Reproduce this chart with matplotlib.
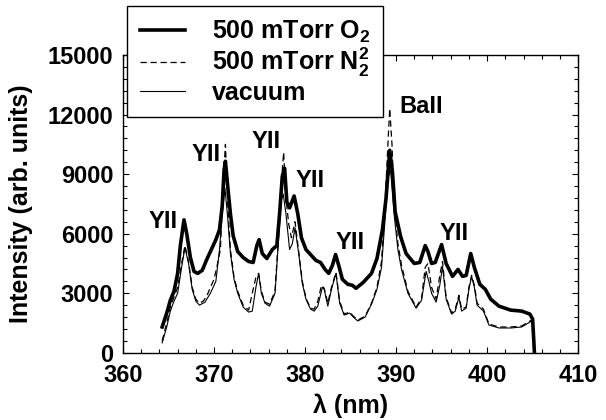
import matplotlib
matplotlib.use("Agg")
import matplotlib.pyplot as plt
from matplotlib.ticker import MultipleLocator

plt.rcParams['font.family'] = ['Liberation Sans', 'DejaVu Sans']
plt.rcParams['font.weight'] = 'bold'
plt.rcParams['mathtext.fontset'] = 'custom'
plt.rcParams['mathtext.rm'] = 'Liberation Sans:bold'
plt.rcParams['mathtext.it'] = 'Liberation Sans:bold'
plt.rcParams['mathtext.bf'] = 'Liberation Sans:bold'

# emission spectra, wavelength (nm) / intensity (arb. units)
wl_o2 = [364.3, 364.8, 365.2, 365.6, 366.0, 366.3, 366.7, 367.0, 367.4, 367.8,
         368.2, 368.7, 369.2, 369.7, 370.2, 370.6, 370.9, 371.1, 371.25, 371.5,
         371.8, 372.1, 372.6, 373.2, 373.8, 374.3, 374.7, 374.95, 375.3, 375.8,
         376.4, 376.9, 377.2, 377.5, 377.75, 378.0, 378.3, 378.8, 379.2, 379.6,
         380.1, 380.6, 381.2, 381.7, 382.2, 382.6, 383.0, 383.35, 383.7, 384.1,
         384.7, 385.2, 385.6, 386.4, 387.3, 387.9, 388.5, 388.9, 389.3, 389.6,
         389.9, 390.5, 391.1, 392.0, 392.6, 393.2, 393.5, 393.9, 394.3, 395.0,
         395.5, 396.2, 396.8, 397.3, 397.7, 398.2, 398.6, 399.2, 399.8, 400.4,
         401.3, 402.6, 403.8, 404.7, 405.0, 405.2]
int_o2 = [1300, 2000, 2650, 3100, 4000, 5400, 6700, 6000, 4800, 4100,
          4000, 4150, 4700, 5200, 5700, 6200, 7400, 9200, 9650, 8400,
          7000, 5900, 5100, 4800, 4600, 4550, 5400, 5700, 5000, 4750,
          5200, 5400, 7000, 8900, 9300, 7600, 7300, 7900, 7000, 5800,
          5200, 4950, 4650, 4550, 4200, 4000, 4400, 4950, 4400, 3700,
          3450, 3400, 3250, 3550, 4000, 4750, 6200, 7800, 10200, 9100,
          7100, 5850, 5000, 4500, 4550, 5400, 5100, 4500, 4550, 5450,
          4500, 3850, 4200, 3850, 3900, 5000, 4300, 3450, 3200, 2700,
          2350, 2150, 2100, 1950, 1700, 0]

wl_n2 = [364.3, 364.8, 365.2, 365.6, 366.0, 366.4, 366.8, 367.2, 367.6, 368.0,
         368.4, 368.8, 369.2, 369.6, 370.0, 370.3, 370.7, 371.0, 371.25, 371.5,
         371.8, 372.2, 372.6, 373.2, 373.8, 374.2, 374.6, 374.9, 375.2, 375.6,
         376.1, 376.7, 377.1, 377.4, 377.65, 377.9, 378.2, 378.5, 378.9, 379.3,
         379.7, 380.1, 380.6, 381.0, 381.4, 381.8, 382.1, 382.5, 382.9, 383.4,
         383.8, 384.3, 384.9, 385.3, 385.8, 386.6, 387.3, 387.9, 388.4, 388.8,
         389.1, 389.3, 389.55, 389.8, 390.2, 390.6, 391.3, 392.2, 392.8, 393.2,
         393.5, 393.9, 394.4, 394.8, 395.1, 395.5, 396.1, 396.5, 396.9, 397.2,
         397.7, 398.0, 398.3, 398.6, 398.9, 399.6, 400.2, 401.3, 402.6, 403.8,
         404.7, 404.9]
int_n2 = [600, 1500, 2300, 2800, 3300, 4400, 5400, 4600, 3300, 2700,
          2500, 2600, 2850, 3300, 3700, 4300, 5200, 8500, 10500, 7500,
          5200, 3800, 3100, 2400, 2150, 3000, 3800, 4000, 3100, 2550,
          2450, 3100, 6000, 8600, 10100, 7800, 6500, 5800, 6600, 5100,
          3600, 2750, 2250, 2200, 2600, 3400, 3250, 2500, 3300, 4050,
          2600, 1950, 2050, 1850, 1650, 1850, 2500, 3300, 4600, 7600,
          10500, 12300, 10500, 7500, 5500, 4400, 3100, 2300, 2750, 4300,
          4500, 3300, 2700, 3900, 4600, 2800, 2000, 2200, 2900, 2200,
          2300, 3300, 3900, 3400, 2500, 2200, 1450, 1300, 1300, 1350,
          1600, 1650]

wl_vac = [364.3, 364.8, 365.2, 365.6, 366.0, 366.4, 366.8, 367.2, 367.6, 368.0,
          368.4, 369.0, 369.6, 370.2, 370.6, 370.9, 371.2, 371.5, 371.8, 372.2,
          372.6, 373.2, 373.8, 374.2, 374.6, 374.9, 375.2, 375.6, 376.1, 376.7,
          377.1, 377.4, 377.6, 377.9, 378.3, 378.6, 378.9, 379.3, 379.7, 380.1,
          380.6, 381.0, 381.4, 381.9, 382.1, 382.5, 382.9, 383.4, 383.8, 384.3,
          384.9, 385.3, 385.8, 386.6, 387.3, 387.9, 388.4, 388.8, 389.1, 389.4,
          389.8, 390.2, 390.6, 391.3, 392.2, 392.8, 393.3, 393.6, 393.9, 394.4,
          394.8, 395.1, 395.5, 396.1, 396.5, 396.9, 397.2, 397.7, 398.0, 398.3,
          398.6, 398.9, 399.6, 400.2, 401.3, 402.6, 403.8, 404.7, 404.9]
int_vac = [500, 1300, 2100, 2600, 3000, 4200, 5300, 4500, 3200, 2600,
           2400, 2550, 3000, 3600, 5200, 7000, 8300, 6800, 5000, 3700,
           3000, 2300, 2050, 2100, 3300, 4000, 3000, 2500, 2350, 3000,
           5800, 7700, 8000, 7000, 5200, 5500, 6300, 5000, 3500, 2700,
           2200, 2100, 2350, 3300, 3200, 2350, 3200, 4000, 2500, 1900,
           2000, 1800, 1600, 1800, 2450, 3200, 4300, 6800, 8800, 9200,
           6900, 5200, 4200, 3000, 2250, 2650, 4100, 3600, 3000, 2550,
           3400, 4350, 2700, 1950, 2100, 2800, 2100, 2250, 3200, 3850,
           3300, 2400, 2100, 1400, 1250, 1250, 1300, 1550, 1600]

# line identifications
line_names = ["YII", "YII", "YII", "YII", "YII", "BaII", "YII"]
line_x = [364.4, 369.1, 375.7, 380.5, 385.0, 392.8, 396.4]
line_y = [6600, 10000, 10630, 8700, 5540, 12430, 6010]

fig = plt.figure(figsize=(6.06, 4.2), dpi=100)
fig.subplots_adjust(left=0.203, right=0.954, bottom=0.160, top=0.869)
ax = fig.add_subplot(1, 1, 1)

ax.plot(wl_o2, int_o2, color='k', lw=2.6, label=r"500 mTorr O$_2$")
ax.plot(wl_n2, int_n2, color='k', lw=0.9, linestyle=(0, (5, 3)),
        label=r"500 mTorr N$^2_2$")
ax.plot(wl_vac, int_vac, color='k', lw=0.8, label="vacuum")

for name, x, y in zip(line_names, line_x, line_y):
    ax.text(x, y, name, ha='center', va='center', fontsize=17, fontweight='bold')

ax.set_xlim(360, 410)
ax.set_ylim(0, 15000)
ax.set_xticks([360, 370, 380, 390, 400, 410])
ax.set_yticks([0, 3000, 6000, 9000, 12000, 15000])
ax.xaxis.set_minor_locator(MultipleLocator(2))
ax.yaxis.set_minor_locator(MultipleLocator(600))
ax.tick_params(which='both', direction='in', top=True, right=True,
               labelsize=17, width=0.8)
ax.tick_params(which='major', length=4)
ax.tick_params(which='minor', length=3)
ax.tick_params(axis='x', which='major', pad=8)
ax.tick_params(axis='y', which='major', pad=7)
for label in ax.get_xticklabels() + ax.get_yticklabels():
    label.set_fontweight('bold')
for spine in ax.spines.values():
    spine.set_linewidth(1.0)

ax.set_xlabel("λ (nm)", fontsize=18, fontweight='bold', va='top')
ax.set_ylabel("Intensity (arb. units)", fontsize=18, fontweight='bold')
ax.xaxis.set_label_coords(0.5, -0.138)
ax.yaxis.set_label_coords(-0.198, 0.5)

leg = ax.legend(loc='upper left', bbox_to_anchor=(127 / 606, 1 - 6 / 420),
                bbox_transform=fig.transFigure, fontsize=18, frameon=True,
                fancybox=False, handlelength=1.8, handletextpad=1.1,
                borderpad=0.5, labelspacing=0.05, borderaxespad=0)
leg.get_frame().set_edgecolor('k')
leg.get_frame().set_linewidth(1.0)
leg.get_frame().set_alpha(1)

fig.savefig("out.png", dpi=100)
